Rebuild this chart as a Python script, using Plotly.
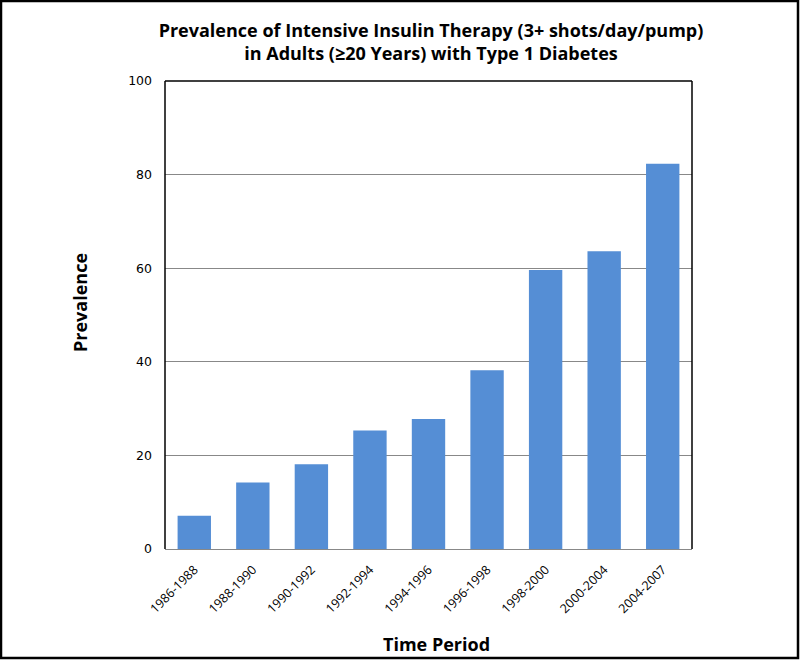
import plotly.graph_objects as go

periods = ["1986-1988", "1988-1990", "1990-1992", "1992-1994", "1994-1996",
           "1996-1998", "1998-2000", "2000-2004", "2004-2007"]
prevalence = [7.1, 14.2, 18.1, 25.3, 27.8, 38.2, 59.6, 63.6, 82.3]
y_ticks = [0, 20, 40, 60, 80, 100]

W, H = 800, 660
L, R, T, B = 165, 692, 81, 549

def px_to_paper_x(px):
    return (px - L) / (R - L)

def px_to_paper_y(py):
    return (B - py) / (B - T)

fig = go.Figure(go.Bar(x=periods, y=prevalence, marker_color="#558ED5",
                       marker_line_width=0))

title_font = dict(family="Open Sans", size=18, color="black", weight="bold")

fig.update_layout(
    width=W, height=H,
    margin=dict(l=L, r=W - R, t=T, b=H - B, pad=0),
    paper_bgcolor="white", plot_bgcolor="white",
    bargap=0.43,
    showlegend=False,
    title=dict(
        text="Prevalence of Intensive Insulin Therapy (3+ shots/day/pump)<br>in Adults (≥20 Years) with Type 1 Diabetes",
        x=px_to_paper_x(431), xref="paper", xanchor="center",
        y=1 - 37 / H, yanchor="middle",
        font=title_font,
    ),
    xaxis=dict(
        tickangle=-45, tickfont=dict(family="Open Sans", size=12.5, color="black"),
        showgrid=False, showline=False, ticks="", ticklabelstandoff=10,
    ),
    yaxis=dict(
        range=[0, 100], tickvals=y_ticks,
        tickfont=dict(family="DejaVu Sans", size=12.5, color="black"),
        showgrid=True, gridcolor="#888888", gridwidth=1,
        zeroline=True, zerolinecolor="#888888", zerolinewidth=1,
        showline=False, ticks="", ticklabelstandoff=12,
    ),
    annotations=[
        dict(text="Time Period", xref="paper", yref="paper",
             x=px_to_paper_x(436), y=px_to_paper_y(644),
             xanchor="center", yanchor="middle", showarrow=False, font=title_font),
        dict(text="Prevalence", xref="paper", yref="paper",
             x=px_to_paper_x(80), y=px_to_paper_y(303), textangle=-90,
             xanchor="center", yanchor="middle", showarrow=False, font=title_font),
    ],
    shapes=[
        dict(type="line", xref="paper", yref="paper", x0=0, x1=1, y0=1, y1=1, line=dict(color="black", width=1.5)),
        dict(type="line", xref="paper", yref="paper", x0=0, x1=0, y0=0, y1=1, line=dict(color="black", width=1.5)),
        dict(type="line", xref="paper", yref="paper", x0=1, x1=1, y0=0, y1=1, line=dict(color="black", width=1.5)),
        dict(type="rect", xref="paper", yref="paper",
             x0=px_to_paper_x(1), x1=px_to_paper_x(798),
             y0=px_to_paper_y(658), y1=px_to_paper_y(1),
             line=dict(color="black", width=2.5), layer="above"),
    ],
)

fig.write_html("out.html", config={"displayModeBar": False},
               post_script="document.body.style.margin='0';")
